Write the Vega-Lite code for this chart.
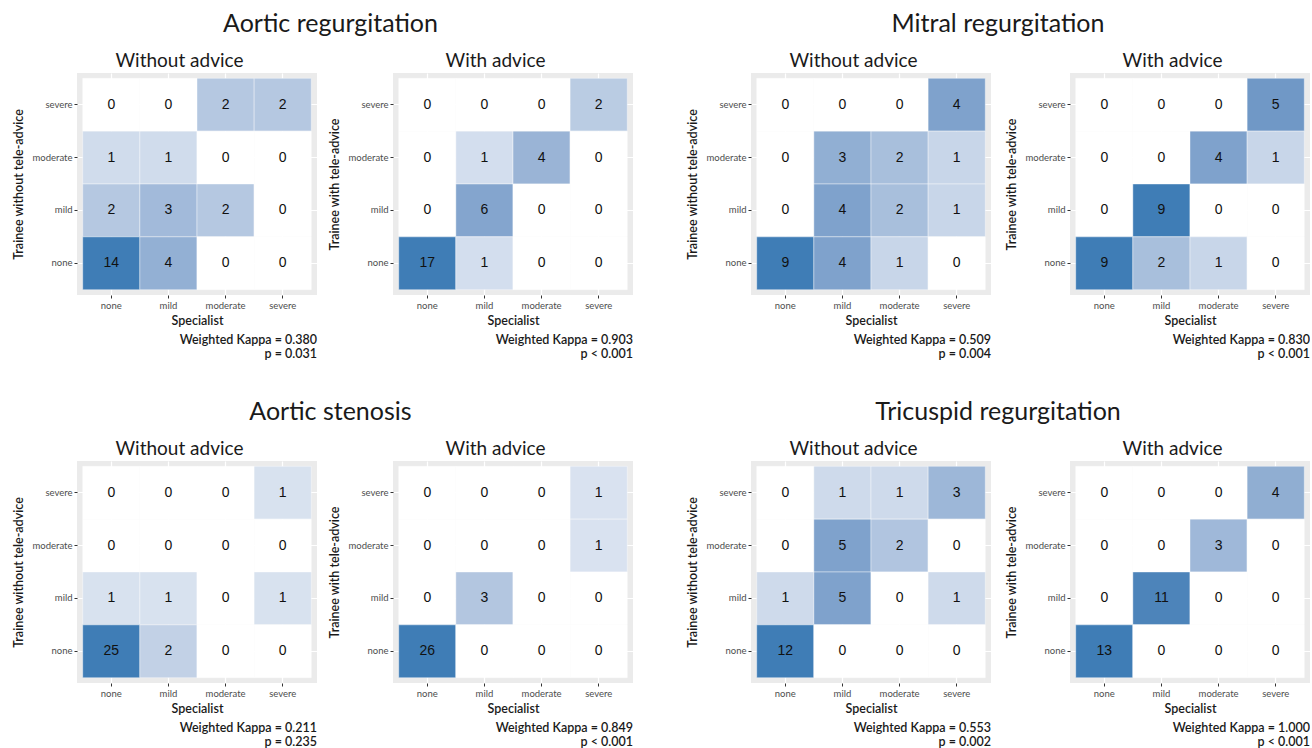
{
  "$schema": "https://vega.github.io/schema/vega-lite/v6.json",
  "padding": {"left": 12, "top": 12, "right": 0, "bottom": 0},
  "config": {
    "font": "Lato",
    "view": {"fill": "#ebebeb", "stroke": null},
    "axis": {"zindex": 0, "domain": false, "grid": true, "gridColor": "#ffffff", "gridWidth": 1.2, "tickColor": "#333333", "tickSize": 3, "tickWidth": 1, "labelColor": "#4d4d4d", "labelFont": "Lato", "labelFontSize": 9.5, "labelPadding": 2, "titleFont": "Lato", "titleFontSize": 12.5, "titleFontWeight": 600, "titleColor": "#1a1a1a"},
    "axisX": {"labelAngle": 0, "titlePadding": 5},
    "axisY": {"titlePadding": 2, "minExtent": 50, "maxExtent": 50},
    "title": {"font": "Lato", "color": "#1a1a1a"}
  },
  "datasets": {
    "cells": [
      {"p":"AR0","t":"severe","s":"none","n":0},{"p":"AR0","t":"severe","s":"mild","n":0},{"p":"AR0","t":"severe","s":"moderate","n":2},{"p":"AR0","t":"severe","s":"severe","n":2},
      {"p":"AR0","t":"moderate","s":"none","n":1},{"p":"AR0","t":"moderate","s":"mild","n":1},{"p":"AR0","t":"moderate","s":"moderate","n":0},{"p":"AR0","t":"moderate","s":"severe","n":0},
      {"p":"AR0","t":"mild","s":"none","n":2},{"p":"AR0","t":"mild","s":"mild","n":3},{"p":"AR0","t":"mild","s":"moderate","n":2},{"p":"AR0","t":"mild","s":"severe","n":0},
      {"p":"AR0","t":"none","s":"none","n":14},{"p":"AR0","t":"none","s":"mild","n":4},{"p":"AR0","t":"none","s":"moderate","n":0},{"p":"AR0","t":"none","s":"severe","n":0},

      {"p":"AR1","t":"severe","s":"none","n":0},{"p":"AR1","t":"severe","s":"mild","n":0},{"p":"AR1","t":"severe","s":"moderate","n":0},{"p":"AR1","t":"severe","s":"severe","n":2},
      {"p":"AR1","t":"moderate","s":"none","n":0},{"p":"AR1","t":"moderate","s":"mild","n":1},{"p":"AR1","t":"moderate","s":"moderate","n":4},{"p":"AR1","t":"moderate","s":"severe","n":0},
      {"p":"AR1","t":"mild","s":"none","n":0},{"p":"AR1","t":"mild","s":"mild","n":6},{"p":"AR1","t":"mild","s":"moderate","n":0},{"p":"AR1","t":"mild","s":"severe","n":0},
      {"p":"AR1","t":"none","s":"none","n":17},{"p":"AR1","t":"none","s":"mild","n":1},{"p":"AR1","t":"none","s":"moderate","n":0},{"p":"AR1","t":"none","s":"severe","n":0},

      {"p":"MR0","t":"severe","s":"none","n":0},{"p":"MR0","t":"severe","s":"mild","n":0},{"p":"MR0","t":"severe","s":"moderate","n":0},{"p":"MR0","t":"severe","s":"severe","n":4},
      {"p":"MR0","t":"moderate","s":"none","n":0},{"p":"MR0","t":"moderate","s":"mild","n":3},{"p":"MR0","t":"moderate","s":"moderate","n":2},{"p":"MR0","t":"moderate","s":"severe","n":1},
      {"p":"MR0","t":"mild","s":"none","n":0},{"p":"MR0","t":"mild","s":"mild","n":4},{"p":"MR0","t":"mild","s":"moderate","n":2},{"p":"MR0","t":"mild","s":"severe","n":1},
      {"p":"MR0","t":"none","s":"none","n":9},{"p":"MR0","t":"none","s":"mild","n":4},{"p":"MR0","t":"none","s":"moderate","n":1},{"p":"MR0","t":"none","s":"severe","n":0},

      {"p":"MR1","t":"severe","s":"none","n":0},{"p":"MR1","t":"severe","s":"mild","n":0},{"p":"MR1","t":"severe","s":"moderate","n":0},{"p":"MR1","t":"severe","s":"severe","n":5},
      {"p":"MR1","t":"moderate","s":"none","n":0},{"p":"MR1","t":"moderate","s":"mild","n":0},{"p":"MR1","t":"moderate","s":"moderate","n":4},{"p":"MR1","t":"moderate","s":"severe","n":1},
      {"p":"MR1","t":"mild","s":"none","n":0},{"p":"MR1","t":"mild","s":"mild","n":9},{"p":"MR1","t":"mild","s":"moderate","n":0},{"p":"MR1","t":"mild","s":"severe","n":0},
      {"p":"MR1","t":"none","s":"none","n":9},{"p":"MR1","t":"none","s":"mild","n":2},{"p":"MR1","t":"none","s":"moderate","n":1},{"p":"MR1","t":"none","s":"severe","n":0},

      {"p":"AS0","t":"severe","s":"none","n":0},{"p":"AS0","t":"severe","s":"mild","n":0},{"p":"AS0","t":"severe","s":"moderate","n":0},{"p":"AS0","t":"severe","s":"severe","n":1},
      {"p":"AS0","t":"moderate","s":"none","n":0},{"p":"AS0","t":"moderate","s":"mild","n":0},{"p":"AS0","t":"moderate","s":"moderate","n":0},{"p":"AS0","t":"moderate","s":"severe","n":0},
      {"p":"AS0","t":"mild","s":"none","n":1},{"p":"AS0","t":"mild","s":"mild","n":1},{"p":"AS0","t":"mild","s":"moderate","n":0},{"p":"AS0","t":"mild","s":"severe","n":1},
      {"p":"AS0","t":"none","s":"none","n":25},{"p":"AS0","t":"none","s":"mild","n":2},{"p":"AS0","t":"none","s":"moderate","n":0},{"p":"AS0","t":"none","s":"severe","n":0},

      {"p":"AS1","t":"severe","s":"none","n":0},{"p":"AS1","t":"severe","s":"mild","n":0},{"p":"AS1","t":"severe","s":"moderate","n":0},{"p":"AS1","t":"severe","s":"severe","n":1},
      {"p":"AS1","t":"moderate","s":"none","n":0},{"p":"AS1","t":"moderate","s":"mild","n":0},{"p":"AS1","t":"moderate","s":"moderate","n":0},{"p":"AS1","t":"moderate","s":"severe","n":1},
      {"p":"AS1","t":"mild","s":"none","n":0},{"p":"AS1","t":"mild","s":"mild","n":3},{"p":"AS1","t":"mild","s":"moderate","n":0},{"p":"AS1","t":"mild","s":"severe","n":0},
      {"p":"AS1","t":"none","s":"none","n":26},{"p":"AS1","t":"none","s":"mild","n":0},{"p":"AS1","t":"none","s":"moderate","n":0},{"p":"AS1","t":"none","s":"severe","n":0},

      {"p":"TR0","t":"severe","s":"none","n":0},{"p":"TR0","t":"severe","s":"mild","n":1},{"p":"TR0","t":"severe","s":"moderate","n":1},{"p":"TR0","t":"severe","s":"severe","n":3},
      {"p":"TR0","t":"moderate","s":"none","n":0},{"p":"TR0","t":"moderate","s":"mild","n":5},{"p":"TR0","t":"moderate","s":"moderate","n":2},{"p":"TR0","t":"moderate","s":"severe","n":0},
      {"p":"TR0","t":"mild","s":"none","n":1},{"p":"TR0","t":"mild","s":"mild","n":5},{"p":"TR0","t":"mild","s":"moderate","n":0},{"p":"TR0","t":"mild","s":"severe","n":1},
      {"p":"TR0","t":"none","s":"none","n":12},{"p":"TR0","t":"none","s":"mild","n":0},{"p":"TR0","t":"none","s":"moderate","n":0},{"p":"TR0","t":"none","s":"severe","n":0},

      {"p":"TR1","t":"severe","s":"none","n":0},{"p":"TR1","t":"severe","s":"mild","n":0},{"p":"TR1","t":"severe","s":"moderate","n":0},{"p":"TR1","t":"severe","s":"severe","n":4},
      {"p":"TR1","t":"moderate","s":"none","n":0},{"p":"TR1","t":"moderate","s":"mild","n":0},{"p":"TR1","t":"moderate","s":"moderate","n":3},{"p":"TR1","t":"moderate","s":"severe","n":0},
      {"p":"TR1","t":"mild","s":"none","n":0},{"p":"TR1","t":"mild","s":"mild","n":11},{"p":"TR1","t":"mild","s":"moderate","n":0},{"p":"TR1","t":"mild","s":"severe","n":0},
      {"p":"TR1","t":"none","s":"none","n":13},{"p":"TR1","t":"none","s":"mild","n":0},{"p":"TR1","t":"none","s":"moderate","n":0},{"p":"TR1","t":"none","s":"severe","n":0}
    ]
  },
  "spacing": 40,
  "resolve": {"scale": {"color": "independent"}},
  "vconcat": [
    {
      "spacing": 53,
      "resolve": {"scale": {"color": "independent"}},
      "hconcat": [
        {
          "title": {"text": "Aortic regurgitation", "fontSize": 25, "fontWeight": "normal", "anchor": "middle", "offset": 15, "dx": 8},
          "spacing": 11,
          "resolve": {"scale": {"color": "independent"}},
          "hconcat": [
            {
              "title": {"text": "Without advice", "fontSize": 19, "fontWeight": "normal", "anchor": "middle", "frame": "bounds", "dx": 15, "offset": 2},
              "resolve": {"scale": {"color": "independent"}},
              "vconcat": [
                {
                  "width": 240, "height": 222,
                  "data": {"name": "cells"},
                  "transform": [{"filter": "datum.p == 'AR0'"}],
                  "title": {"text": ["Weighted Kappa = 0.380", "p = 0.031"], "orient": "bottom", "anchor": "end", "fontSize": 12.5, "fontWeight": 600, "lineHeight": 13.5, "offset": 7},
                  "encoding": {
                    "x": {"field": "s", "type": "nominal", "sort": ["none", "mild", "moderate", "severe"], "scale": {"paddingInner": 0, "paddingOuter": 0.1}, "title": "Specialist"},
                    "y": {"field": "t", "type": "nominal", "sort": ["severe", "moderate", "mild", "none"], "scale": {"paddingInner": 0, "paddingOuter": 0.1}, "title": "Trainee without tele-advice"}
                  },
                  "layer": [
                    {"mark": {"type": "rect", "zindex": 2, "stroke": "#ffffff", "strokeWidth": 1, "strokeOpacity": 0.4}, "encoding": {"color": {"field": "n", "type": "quantitative", "scale": {"type": "symlog", "range": ["#ffffff", "#3f7db6"], "interpolate": "lab"}, "legend": null}}},
                    {"mark": {"type": "text", "zindex": 3, "font": "Liberation Sans", "fontSize": 14, "color": "#111111"}, "encoding": {"text": {"field": "n", "type": "quantitative"}}}
                  ]
                }
              ]
            },
            {
              "title": {"text": "With advice", "fontSize": 19, "fontWeight": "normal", "anchor": "middle", "frame": "bounds", "dx": 15, "offset": 2},
              "resolve": {"scale": {"color": "independent"}},
              "vconcat": [
                {
                  "width": 240, "height": 222,
                  "data": {"name": "cells"},
                  "transform": [{"filter": "datum.p == 'AR1'"}],
                  "title": {"text": ["Weighted Kappa = 0.903", "p < 0.001"], "orient": "bottom", "anchor": "end", "fontSize": 12.5, "fontWeight": 600, "lineHeight": 13.5, "offset": 7},
                  "encoding": {
                    "x": {"field": "s", "type": "nominal", "sort": ["none", "mild", "moderate", "severe"], "scale": {"paddingInner": 0, "paddingOuter": 0.1}, "title": "Specialist"},
                    "y": {"field": "t", "type": "nominal", "sort": ["severe", "moderate", "mild", "none"], "scale": {"paddingInner": 0, "paddingOuter": 0.1}, "title": "Trainee with tele-advice"}
                  },
                  "layer": [
                    {"mark": {"type": "rect", "zindex": 2, "stroke": "#ffffff", "strokeWidth": 1, "strokeOpacity": 0.4}, "encoding": {"color": {"field": "n", "type": "quantitative", "scale": {"type": "symlog", "range": ["#ffffff", "#3f7db6"], "interpolate": "lab"}, "legend": null}}},
                    {"mark": {"type": "text", "zindex": 3, "font": "Liberation Sans", "fontSize": 14, "color": "#111111"}, "encoding": {"text": {"field": "n", "type": "quantitative"}}}
                  ]
                }
              ]
            }
          ]
        },
        {
          "title": {"text": "Mitral regurgitation", "fontSize": 25, "fontWeight": "normal", "anchor": "middle", "offset": 15},
          "spacing": 14,
          "resolve": {"scale": {"color": "independent"}},
          "hconcat": [
            {
              "title": {"text": "Without advice", "fontSize": 19, "fontWeight": "normal", "anchor": "middle", "frame": "bounds", "dx": 15, "offset": 2},
              "resolve": {"scale": {"color": "independent"}},
              "vconcat": [
                {
                  "width": 240, "height": 222,
                  "data": {"name": "cells"},
                  "transform": [{"filter": "datum.p == 'MR0'"}],
                  "title": {"text": ["Weighted Kappa = 0.509", "p = 0.004"], "orient": "bottom", "anchor": "end", "fontSize": 12.5, "fontWeight": 600, "lineHeight": 13.5, "offset": 7},
                  "encoding": {
                    "x": {"field": "s", "type": "nominal", "sort": ["none", "mild", "moderate", "severe"], "scale": {"paddingInner": 0, "paddingOuter": 0.1}, "title": "Specialist"},
                    "y": {"field": "t", "type": "nominal", "sort": ["severe", "moderate", "mild", "none"], "scale": {"paddingInner": 0, "paddingOuter": 0.1}, "title": "Trainee without tele-advice"}
                  },
                  "layer": [
                    {"mark": {"type": "rect", "zindex": 2, "stroke": "#ffffff", "strokeWidth": 1, "strokeOpacity": 0.4}, "encoding": {"color": {"field": "n", "type": "quantitative", "scale": {"type": "symlog", "range": ["#ffffff", "#3f7db6"], "interpolate": "lab"}, "legend": null}}},
                    {"mark": {"type": "text", "zindex": 3, "font": "Liberation Sans", "fontSize": 14, "color": "#111111"}, "encoding": {"text": {"field": "n", "type": "quantitative"}}}
                  ]
                }
              ]
            },
            {
              "title": {"text": "With advice", "fontSize": 19, "fontWeight": "normal", "anchor": "middle", "frame": "bounds", "dx": 15, "offset": 2},
              "resolve": {"scale": {"color": "independent"}},
              "vconcat": [
                {
                  "width": 240, "height": 222,
                  "data": {"name": "cells"},
                  "transform": [{"filter": "datum.p == 'MR1'"}],
                  "title": {"text": ["Weighted Kappa = 0.830", "p < 0.001"], "orient": "bottom", "anchor": "end", "fontSize": 12.5, "fontWeight": 600, "lineHeight": 13.5, "offset": 7},
                  "encoding": {
                    "x": {"field": "s", "type": "nominal", "sort": ["none", "mild", "moderate", "severe"], "scale": {"paddingInner": 0, "paddingOuter": 0.1}, "title": "Specialist"},
                    "y": {"field": "t", "type": "nominal", "sort": ["severe", "moderate", "mild", "none"], "scale": {"paddingInner": 0, "paddingOuter": 0.1}, "title": "Trainee with tele-advice"}
                  },
                  "layer": [
                    {"mark": {"type": "rect", "zindex": 2, "stroke": "#ffffff", "strokeWidth": 1, "strokeOpacity": 0.4}, "encoding": {"color": {"field": "n", "type": "quantitative", "scale": {"type": "symlog", "range": ["#ffffff", "#3f7db6"], "interpolate": "lab"}, "legend": null}}},
                    {"mark": {"type": "text", "zindex": 3, "font": "Liberation Sans", "fontSize": 14, "color": "#111111"}, "encoding": {"text": {"field": "n", "type": "quantitative"}}}
                  ]
                }
              ]
            }
          ]
        }
      ]
    },
    {
      "spacing": 53,
      "resolve": {"scale": {"color": "independent"}},
      "hconcat": [
        {
          "title": {"text": "Aortic stenosis", "fontSize": 25, "fontWeight": "normal", "anchor": "middle", "offset": 15, "dx": 8},
          "spacing": 11,
          "resolve": {"scale": {"color": "independent"}},
          "hconcat": [
            {
              "title": {"text": "Without advice", "fontSize": 19, "fontWeight": "normal", "anchor": "middle", "frame": "bounds", "dx": 15, "offset": 2},
              "resolve": {"scale": {"color": "independent"}},
              "vconcat": [
                {
                  "width": 240, "height": 222,
                  "data": {"name": "cells"},
                  "transform": [{"filter": "datum.p == 'AS0'"}],
                  "title": {"text": ["Weighted Kappa = 0.211", "p = 0.235"], "orient": "bottom", "anchor": "end", "fontSize": 12.5, "fontWeight": 600, "lineHeight": 13.5, "offset": 7},
                  "encoding": {
                    "x": {"field": "s", "type": "nominal", "sort": ["none", "mild", "moderate", "severe"], "scale": {"paddingInner": 0, "paddingOuter": 0.1}, "title": "Specialist"},
                    "y": {"field": "t", "type": "nominal", "sort": ["severe", "moderate", "mild", "none"], "scale": {"paddingInner": 0, "paddingOuter": 0.1}, "title": "Trainee without tele-advice"}
                  },
                  "layer": [
                    {"mark": {"type": "rect", "zindex": 2, "stroke": "#ffffff", "strokeWidth": 1, "strokeOpacity": 0.4}, "encoding": {"color": {"field": "n", "type": "quantitative", "scale": {"type": "symlog", "range": ["#ffffff", "#3f7db6"], "interpolate": "lab"}, "legend": null}}},
                    {"mark": {"type": "text", "zindex": 3, "font": "Liberation Sans", "fontSize": 14, "color": "#111111"}, "encoding": {"text": {"field": "n", "type": "quantitative"}}}
                  ]
                }
              ]
            },
            {
              "title": {"text": "With advice", "fontSize": 19, "fontWeight": "normal", "anchor": "middle", "frame": "bounds", "dx": 15, "offset": 2},
              "resolve": {"scale": {"color": "independent"}},
              "vconcat": [
                {
                  "width": 240, "height": 222,
                  "data": {"name": "cells"},
                  "transform": [{"filter": "datum.p == 'AS1'"}],
                  "title": {"text": ["Weighted Kappa = 0.849", "p < 0.001"], "orient": "bottom", "anchor": "end", "fontSize": 12.5, "fontWeight": 600, "lineHeight": 13.5, "offset": 7},
                  "encoding": {
                    "x": {"field": "s", "type": "nominal", "sort": ["none", "mild", "moderate", "severe"], "scale": {"paddingInner": 0, "paddingOuter": 0.1}, "title": "Specialist"},
                    "y": {"field": "t", "type": "nominal", "sort": ["severe", "moderate", "mild", "none"], "scale": {"paddingInner": 0, "paddingOuter": 0.1}, "title": "Trainee with tele-advice"}
                  },
                  "layer": [
                    {"mark": {"type": "rect", "zindex": 2, "stroke": "#ffffff", "strokeWidth": 1, "strokeOpacity": 0.4}, "encoding": {"color": {"field": "n", "type": "quantitative", "scale": {"type": "symlog", "range": ["#ffffff", "#3f7db6"], "interpolate": "lab"}, "legend": null}}},
                    {"mark": {"type": "text", "zindex": 3, "font": "Liberation Sans", "fontSize": 14, "color": "#111111"}, "encoding": {"text": {"field": "n", "type": "quantitative"}}}
                  ]
                }
              ]
            }
          ]
        },
        {
          "title": {"text": "Tricuspid regurgitation", "fontSize": 25, "fontWeight": "normal", "anchor": "middle", "offset": 15},
          "spacing": 14,
          "resolve": {"scale": {"color": "independent"}},
          "hconcat": [
            {
              "title": {"text": "Without advice", "fontSize": 19, "fontWeight": "normal", "anchor": "middle", "frame": "bounds", "dx": 15, "offset": 2},
              "resolve": {"scale": {"color": "independent"}},
              "vconcat": [
                {
                  "width": 240, "height": 222,
                  "data": {"name": "cells"},
                  "transform": [{"filter": "datum.p == 'TR0'"}],
                  "title": {"text": ["Weighted Kappa = 0.553", "p = 0.002"], "orient": "bottom", "anchor": "end", "fontSize": 12.5, "fontWeight": 600, "lineHeight": 13.5, "offset": 7},
                  "encoding": {
                    "x": {"field": "s", "type": "nominal", "sort": ["none", "mild", "moderate", "severe"], "scale": {"paddingInner": 0, "paddingOuter": 0.1}, "title": "Specialist"},
                    "y": {"field": "t", "type": "nominal", "sort": ["severe", "moderate", "mild", "none"], "scale": {"paddingInner": 0, "paddingOuter": 0.1}, "title": "Trainee without tele-advice"}
                  },
                  "layer": [
                    {"mark": {"type": "rect", "zindex": 2, "stroke": "#ffffff", "strokeWidth": 1, "strokeOpacity": 0.4}, "encoding": {"color": {"field": "n", "type": "quantitative", "scale": {"type": "symlog", "range": ["#ffffff", "#3f7db6"], "interpolate": "lab"}, "legend": null}}},
                    {"mark": {"type": "text", "zindex": 3, "font": "Liberation Sans", "fontSize": 14, "color": "#111111"}, "encoding": {"text": {"field": "n", "type": "quantitative"}}}
                  ]
                }
              ]
            },
            {
              "title": {"text": "With advice", "fontSize": 19, "fontWeight": "normal", "anchor": "middle", "frame": "bounds", "dx": 15, "offset": 2},
              "resolve": {"scale": {"color": "independent"}},
              "vconcat": [
                {
                  "width": 240, "height": 222,
                  "data": {"name": "cells"},
                  "transform": [{"filter": "datum.p == 'TR1'"}],
                  "title": {"text": ["Weighted Kappa = 1.000", "p < 0.001"], "orient": "bottom", "anchor": "end", "fontSize": 12.5, "fontWeight": 600, "lineHeight": 13.5, "offset": 7},
                  "encoding": {
                    "x": {"field": "s", "type": "nominal", "sort": ["none", "mild", "moderate", "severe"], "scale": {"paddingInner": 0, "paddingOuter": 0.1}, "title": "Specialist"},
                    "y": {"field": "t", "type": "nominal", "sort": ["severe", "moderate", "mild", "none"], "scale": {"paddingInner": 0, "paddingOuter": 0.1}, "title": "Trainee with tele-advice"}
                  },
                  "layer": [
                    {"mark": {"type": "rect", "zindex": 2, "stroke": "#ffffff", "strokeWidth": 1, "strokeOpacity": 0.4}, "encoding": {"color": {"field": "n", "type": "quantitative", "scale": {"type": "symlog", "range": ["#ffffff", "#3f7db6"], "interpolate": "lab"}, "legend": null}}},
                    {"mark": {"type": "text", "zindex": 3, "font": "Liberation Sans", "fontSize": 14, "color": "#111111"}, "encoding": {"text": {"field": "n", "type": "quantitative"}}}
                  ]
                }
              ]
            }
          ]
        }
      ]
    }
  ]
}
